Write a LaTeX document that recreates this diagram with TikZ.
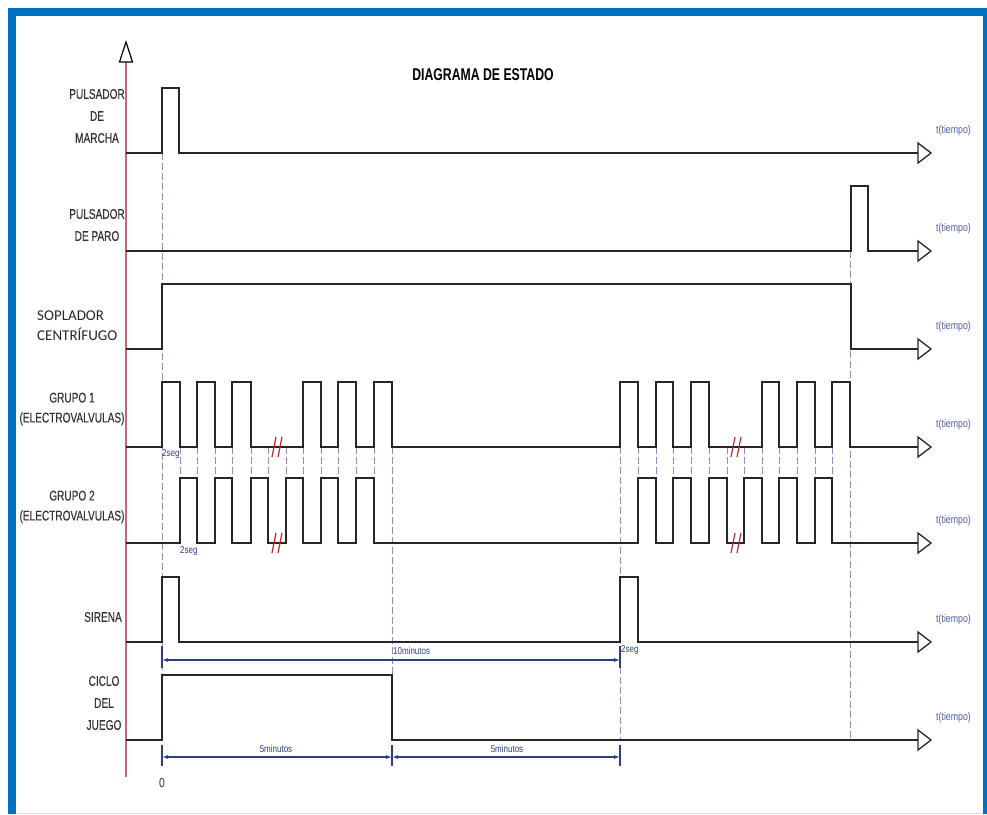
\documentclass[tikz,border=0pt]{standalone}
\usepackage{fontspec}
\usetikzlibrary{arrows.meta}
\newfontfamily\narrowfont[FakeStretch=0.72]{Liberation Sans}
\newfontfamily\lblfont[FakeStretch=0.72,FakeBold=0.4]{Liberation Sans}
\newfontfamily\smallfont[FakeStretch=0.8]{Liberation Sans}
\newfontfamily\calfont{Carlito}
\definecolor{framecol}{HTML}{0070C0}
\definecolor{sigcol}{HTML}{262626}
\definecolor{dashcol}{HTML}{A385B5}
\definecolor{dimcol}{HTML}{2B3F7E}
\definecolor{brkcol}{HTML}{C0282C}
\definecolor{axcol}{HTML}{C46A6E}
\definecolor{lblcol}{HTML}{333333}
\definecolor{tcol}{HTML}{4F5E9E}
\begin{document}
\begin{tikzpicture}[x=1pt,y=-1pt,
  sig/.style={draw=sigcol,line width=1.7pt,line join=miter},
  dsh/.style={draw=dashcol,line width=0.8pt,dash pattern=on 7pt off 3pt},
  dimline/.style={draw=dimcol,line width=1.1pt},
  dimarrow/.style={dimline,{Latex[length=6pt,width=4pt]}-{Latex[length=6pt,width=4pt]}},
  brk/.style={draw=brkcol,line width=1.2pt},
  lbl/.style={font=\lblfont\fontsize{14}{22}\selectfont,text=lblcol,align=center,inner sep=0pt},
  tl/.style={font=\smallfont\fontsize{11}{12}\selectfont,text=tcol,inner sep=0pt,anchor=west},
  dl/.style={font=\smallfont\fontsize{10}{12}\selectfont,text=dimcol,inner sep=0pt}]
\useasboundingbox (0,0) rectangle (987,814);
% frame
\fill[framecol] (8,8) rectangle (987,16);
\fill[framecol] (8,8) rectangle (16,814);
\fill[framecol] (983,8) rectangle (987,814);
\draw[gray!25,line width=0.8pt] (16,813) -- (983,813);
% title
\node[font=\narrowfont\bfseries\fontsize{17}{20}\selectfont,text=black,inner sep=0pt] (title) at (483,75) {DIAGRAMA DE ESTADO};
% y axis
\draw[axcol,line width=1.2pt] (126,62) -- (126,777);
\draw[black,line width=1.2pt,fill=white] (126,42) -- (132.5,62) -- (119.5,62) -- cycle;
% dashed guides (long)
\draw[dsh] (162,153) -- (162,675);
\draw[dsh] (392,447) -- (392,740);
\draw[dsh] (620,447) -- (620,740);
\draw[dsh] (850,251) -- (850,740);
% dashed guides (short, between groups)
\foreach \x in {180,197,215,232,251,268,286,303,321,338,356,374,638,656,673,691,709,727,744,762,779,797,815,832}
  \draw[dsh] (\x,447) -- (\x,478);
% signals
\draw[sig] (126,153) -- (162,153) -- (162,88) -- (179,88) -- (179,153) -- (918,153);
\draw[sig] (126,251) -- (851,251) -- (851,186) -- (868,186) -- (868,251) -- (918,251);
\draw[sig] (126,349) -- (162,349) -- (162,284) -- (851,284) -- (851,349) -- (918,349);
\draw[sig] (126,447) \foreach \a/\b in {162/180,197/215,232/251,303/321,338/356,374/392,620/638,656/673,691/709,762/779,797/815,832/850} { -- (\a,447) -- (\a,382) -- (\b,382) -- (\b,447) } -- (918,447);
\draw[sig] (126,543) \foreach \a/\b in {180/197,215/232,251/268,286/303,321/338,356/374,638/656,673/691,709/727,744/762,779/797,815/832} { -- (\a,543) -- (\a,478) -- (\b,478) -- (\b,543) } -- (918,543);
\draw[sig] (126,642) -- (162,642) -- (162,577) -- (179,577) -- (179,642) -- (620,642) -- (620,577) -- (638,577) -- (638,642) -- (918,642);
\draw[sig] (126,740) -- (162,740) -- (162,675) -- (392,675) -- (392,740) -- (918,740);
% break marks
\foreach \x/\y in {277/447,277/543,736/447,736/543} {
  \draw[brk] (\x-5,\y+10) -- (\x-1,\y-10);
  \draw[brk] (\x+1,\y+10) -- (\x+5,\y-10);
}
% arrowheads and t(tiempo)
\foreach \y [count=\i] in {153,251,349,447,543,642,740} {
  \draw[sig,line width=1.3pt,fill=white] (918,\y-10) -- (931,\y) -- (918,\y+10) -- cycle;
  \node[tl] (t\i) at (936,\y-22) {t(tiempo)};
}
% dimensions
\draw[dimline] (162,646) -- (162,668);
\draw[dimline] (620,646) -- (620,668);
\draw[dimarrow] (162,660) -- (620,660);
\foreach \x in {162,392,620} \draw[dimline] (\x,745) -- (\x,766);
\draw[dimarrow] (162,757) -- (392,757);
\draw[dimarrow] (392,757) -- (620,757);
\node[dl,anchor=west] (d10) at (393,651) {10minutos};
\node[dl] (d5a) at (276,749) {5minutos};
\node[dl] (d5b) at (507,749) {5minutos};
\node[dl,anchor=west] (s1) at (162,454) {2seg};
\node[dl,anchor=west] (s2) at (180,551) {2seg};
\node[dl,anchor=west] (s3) at (621,650) {2seg};
\node[font=\smallfont\fontsize{13}{14}\selectfont,text=lblcol,inner sep=0pt] (zero) at (162,783) {0};
% left labels
\node[lbl] (lmarcha) at (97,116) {PULSADOR\\DE\\MARCHA};
\node[lbl] (lparo) at (97,225) {PULSADOR\\DE PARO};
\node[font=\calfont\fontsize{15}{20}\selectfont,text=sigcol,align=left,inner sep=0pt,anchor=west] (lsopl) at (37,326) {SOPLADOR\\CENTRÍFUGO};
\node[lbl,font=\lblfont\fontsize{14}{20}\selectfont] (lg1) at (72,409) {GRUPO 1\\(ELECTROVALVULAS)};
\node[lbl,font=\lblfont\fontsize{14}{20}\selectfont] (lg2) at (72,507) {GRUPO 2\\(ELECTROVALVULAS)};
\node[lbl] (lsir) at (103,617) {SIRENA};
\node[lbl] (lciclo) at (104,703) {CICLO\\DEL\\JUEGO};
\end{tikzpicture}
\end{document}
